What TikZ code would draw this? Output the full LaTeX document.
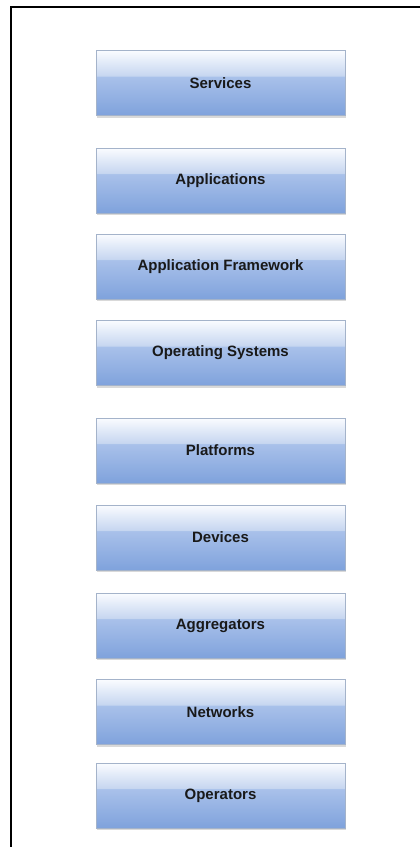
\documentclass[tikz,border=0pt]{standalone}
\usepackage{fontspec}
\setmainfont{Liberation Sans}
\usetikzlibrary{shadows}

\definecolor{boxtop}{HTML}{FAFCFF}
\definecolor{boxhi}{HTML}{C6D6F0}
\definecolor{boxlo}{HTML}{A9C1EA}
\definecolor{boxbot}{HTML}{7FA2DC}
\definecolor{boxline}{HTML}{A4B3CA}
\pgfdeclareverticalshading{glossy}{100bp}{color(0bp)=(boxbot); color(25bp)=(boxbot);
  color(55bp)=(boxlo); color(55.6bp)=(boxhi); color(75bp)=(boxtop); color(100bp)=(boxtop)}

\tikzset{layer/.style={draw=boxline,line width=.4pt,shading=glossy,
    minimum width=249pt,minimum height=65pt,inner sep=0pt,
    drop shadow={shadow xshift=1pt,shadow yshift=-2pt,opacity=.3},
    font=\fontsize{15}{18}\selectfont\bfseries,text=black!90}}

\begin{document}
\begin{tikzpicture}[x=1pt,y=-1pt]
\useasboundingbox (0,0) rectangle (420,847);
\draw[line width=1.3pt] (11,847) -- (11,7) -- (420,7);

\node[layer] (services)    at (220.5,83)    {Services};
\node[layer] (apps)        at (220.5,180.5) {Applications};
\node[layer] (framework)   at (220.5,266.5) {Application Framework};
\node[layer] (os)          at (220.5,353)   {Operating Systems};
\node[layer] (platforms)   at (220.5,450.5) {Platforms};
\node[layer] (devices)     at (220.5,537.5) {Devices};
\node[layer] (aggregators) at (220.5,625.5) {Aggregators};
\node[layer] (networks)    at (220.5,712)   {Networks};
\node[layer] (operators)   at (220.5,795.5) {Operators};
\end{tikzpicture}
\end{document}
